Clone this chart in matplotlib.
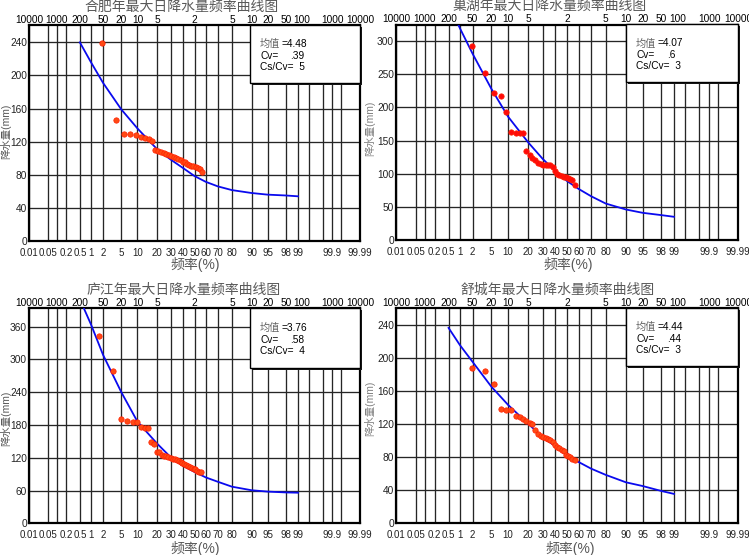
import matplotlib
matplotlib.use("Agg")
import matplotlib.pyplot as plt
import matplotlib.transforms as mtransforms
from matplotlib.patches import Rectangle
from matplotlib.ticker import FixedLocator, NullFormatter
import numpy as np
from statistics import NormalDist

plt.rcParams['font.family'] = ['Liberation Sans', 'Noto Sans CJK SC', 'DejaVu Sans']

W, H = 749, 555

# empirical frequencies (%) of the plotted points
FREQ_A = [1.9, 3.8, 5.7, 7.5, 9.4, 11.3, 13.2, 15.1, 17.0, 18.9,
          20.8, 22.6, 24.5, 26.4, 28.3, 30.2, 32.1, 34.0, 35.8, 37.7,
          39.6, 41.5, 43.4, 45.3, 47.2, 49.1, 50.9, 52.8, 54.7, 56.6]
FREQ_B = [1.6, 3.3, 4.9, 6.6, 8.2, 9.8, 11.5, 13.1, 14.8, 16.4,
          18.0, 19.7, 21.3, 23.0, 24.6, 26.2, 27.9, 29.5, 31.1, 32.8,
          34.4, 36.1, 37.7, 39.3, 41.0, 42.6, 44.3, 45.9, 47.5, 49.2,
          50.8, 52.5, 54.1, 55.7]

HEFEI_PTS = [239, 146, 129, 129, 128.5, 125.5, 124, 123, 120.5, 110.5,
             109, 108, 106.5, 105, 104, 103, 101.5, 100.5, 99, 98,
             96, 95, 93.5, 92, 91, 90.5, 89, 88, 87, 83]
CHAOHU_PTS = [292, 252, 221, 217, 193, 163.5, 162, 162, 162, 134,
              128, 123, 121, 116, 114, 113.5, 113.5, 113.5, 113, 110,
              104, 100, 98, 97, 95.5, 94.5, 93, 92, 90.5, 83]
LUJIANG_PTS = [343, 279, 190.5, 187.5, 186, 186, 177, 175, 173.5, 148.5,
               146, 131, 130, 124.5, 123.5, 123, 122, 120, 118.5, 117,
               115, 113.5, 111.5, 110, 108.5, 107, 105, 103, 102, 100,
               98.5, 96.5, 94.5, 93.5]
SHUCHENG_PTS = [187, 184, 168, 137.5, 137, 137, 130, 128, 125.5, 123.5,
                121.5, 120.5, 113, 108, 106, 104, 103, 101.5, 100, 98,
                95, 92, 91, 89, 87, 83, 81, 79.5, 78, 76]

# fitted frequency curves
CURVE_FREQ = [0.5, 1, 2, 5, 10, 20, 30, 40, 50, 60, 70, 80, 90, 95, 98, 99]
HEFEI_FIT = [240, 216, 191, 159, 136, 111, 98, 88, 78.5, 71.5, 66, 61.5, 58, 56, 55, 54]
CHAOHU_FIT = [356, 319, 281, 228, 186, 147, 122, 104, 89, 77, 66, 55, 46, 41, 37.5, 35]
LUJIANG_FIT = [410, 364, 308, 240, 186, 146, 120, 105, 94, 84, 76, 67, 60.5, 58, 56.5, 56]
SHUCHENG_FIT = [236, 215, 195, 165, 143, 120, 104, 93, 82, 74, 66, 58.5, 49.5, 45, 39, 35.5]

BOT_FREQ = [0.01, 0.05, 0.2, 0.5, 1, 2, 5, 10, 20, 30, 40, 50, 60, 70, 80,
            90, 95, 98, 99, 99.9, 99.99]
BOT_LABELS = ['0.01', '0.05', '0.2', '0.5', '1', '2', '5', '10', '20', '30', '40',
              '50', '60', '70', '80', '90', '95', '98', '99', '99.9', '99.99']
MINOR_FREQ = [0.1, 99.5, 99.8, 99.95]
TOP_FREQ = [0.01, 0.1, 0.5, 2, 5, 10, 20, 50, 80, 90, 95, 98, 99, 99.9, 99.99]
TOP_LABELS = ['10000', '1000', '200', '50', '20', '10', '5', '2', '5', '10', '20',
              '50', '100', '1000', '10000']

nd = NormalDist()
_ppf = np.vectorize(nd.inv_cdf, otypes=[float])
_cdf = np.vectorize(nd.cdf, otypes=[float])


def fwd(p):
    p = np.clip(np.asarray(p, dtype=float), 1e-7, 100 - 1e-7)
    return _ppf(p / 100.0)


def inv(t):
    return _cdf(np.asarray(t, dtype=float)) * 100.0


GRAY = '#595959'

panels = [
    dict(title='合肥年最大日降水量频率曲线图', rect=(29, 25, 360, 241), title_xy=(182, 7),
         xlab_xy=(195, 265), freq=FREQ_A, pts=HEFEI_PTS, fit=HEFEI_FIT,
         ylim=261, yticks=[0, 40, 80, 120, 160, 200, 240], dot='#ff4a14',
         stats=('4.48', '.39', '5'), box=(0.668, 0.73)),
    dict(title='巢湖年最大日降水量频率曲线图', rect=(396, 24.5, 738, 240), title_xy=(550, 6),
         xlab_xy=(568, 265), freq=FREQ_A, pts=CHAOHU_PTS, fit=CHAOHU_FIT,
         ylim=325, yticks=[0, 50, 100, 150, 200, 250, 300], dot='#ff0a0a',
         stats=('4.07', '.6', '3'), box=(0.672, 0.733)),
    dict(title='庐江年最大日降水量频率曲线图', rect=(29, 308, 360, 523.3), title_xy=(184, 290),
         xlab_xy=(195, 548), freq=FREQ_B, pts=LUJIANG_PTS, fit=LUJIANG_FIT,
         ylim=394, yticks=[0, 60, 120, 180, 240, 300, 360], dot='#ff4a14',
         stats=('3.76', '.58', '4'), box=(0.668, 0.721)),
    dict(title='舒城年最大日降水量频率曲线图', rect=(396, 308, 738, 523.3), title_xy=(558, 290),
         xlab_xy=(570, 548), freq=FREQ_A, pts=SHUCHENG_PTS, fit=SHUCHENG_FIT,
         ylim=260, yticks=[0, 40, 80, 120, 160, 200, 240], dot='#ff4a14',
         stats=('4.44', '.44', '3'), box=(0.672, 0.73)),
]

fig = plt.figure(figsize=(W / 100, H / 100), dpi=100)

for pn in panels:
    l, t, r, b = pn['rect']
    ax = fig.add_axes([l / W, 1 - b / H, (r - l) / W, (b - t) / H])
    ax.set_xscale('function', functions=(fwd, inv))
    ax.set_xlim(0.01, 99.99)
    ax.set_ylim(0, pn['ylim'])

    ax.xaxis.set_major_locator(FixedLocator(BOT_FREQ))
    ax.set_xticklabels(BOT_LABELS)
    ax.xaxis.set_minor_locator(FixedLocator(MINOR_FREQ))
    ax.xaxis.set_minor_formatter(NullFormatter())
    ax.set_yticks(pn['yticks'])
    ax.tick_params(axis='x', which='both', length=0, pad=5, labelsize=7, labelcolor='#222222')
    ax.tick_params(axis='y', length=0, pad=1.5, labelsize=7.3, labelcolor='#222222')
    ax.grid(True, which='both', color='#262626', lw=0.95)
    ax.set_axisbelow(True)
    for s in ax.spines.values():
        s.set_linewidth(1.6)
        s.set_color('black')

    ax.plot(CURVE_FREQ, pn['fit'], color='#0a0aee', lw=1.3, zorder=3)
    ax.scatter(pn['freq'], pn['pts'], s=15, color=pn['dot'], edgecolors='#ff1e00',
               linewidths=0.5, zorder=4)

    # return-period labels on top
    top_tr = mtransforms.blended_transform_factory(ax.transData, ax.transAxes) + \
        mtransforms.ScaledTranslation(0, 0.05, fig.dpi_scale_trans)
    for f, lab in zip(TOP_FREQ, TOP_LABELS):
        tr = top_tr
        if f == 99:
            # nudge so "50" and "100" do not run together
            tr = top_tr + mtransforms.ScaledTranslation(0.035, 0, fig.dpi_scale_trans)
        ax.text(f, 1.0, lab, transform=tr, ha='center', va='center',
                fontsize=7.3, color='black', clip_on=False)

    # parameter box with shadow
    x0, y0 = pn['box']
    shadow = Rectangle((x0, y0), 1 - x0, 1 - y0, transform=ax.transAxes +
                       mtransforms.ScaledTranslation(0.02, -0.02, fig.dpi_scale_trans),
                       facecolor='#1a1a1a', edgecolor='none', zorder=5, clip_on=False)
    box = Rectangle((x0, y0), 1 - x0, 1 - y0, transform=ax.transAxes,
                    facecolor='white', edgecolor='black', lw=1.0, zorder=6, clip_on=False)
    ax.add_patch(shadow)
    ax.add_patch(box)
    mean, cv, ratio = pn['stats']
    tx = x0 + 0.03
    yy = 1 - (1 - y0) * 0.33
    ax.text(tx, yy, '均值', transform=ax.transAxes, fontsize=7.3, color='#666666',
            va='center', ha='left', zorder=7, family=['Noto Sans CJK SC'])
    ax.text(tx + 0.064, yy, '=' + mean, transform=ax.transAxes, fontsize=7.3,
            color='black', va='center', ha='left', zorder=7)
    ax.text(tx, 1 - (1 - y0) * 0.53, 'Cv=', transform=ax.transAxes, fontsize=7.3,
            va='center', ha='left', zorder=7)
    ax.text(tx + 0.09, 1 - (1 - y0) * 0.53, cv, transform=ax.transAxes, fontsize=7.3,
            va='center', ha='left', zorder=7)
    ax.text(tx, 1 - (1 - y0) * 0.72, 'Cs/Cv=  ' + ratio, transform=ax.transAxes,
            fontsize=7.3, va='center', ha='left', zorder=7)

    fig.text(pn['title_xy'][0] / W, 1 - pn['title_xy'][1] / H, pn['title'],
             ha='center', va='center', fontsize=10, color=GRAY,
             family=['Noto Sans CJK SC'])
    fig.text(pn['xlab_xy'][0] / W, 1 - pn['xlab_xy'][1] / H, '频率(%)',
             ha='center', va='center', fontsize=10, color=GRAY)

# y-axis labels
for x, y, c in [(5.5, 131, GRAY), (5.5, 418, GRAY), (370, 128, '#808080'), (370, 408, '#808080')]:
    fig.text(x / W, 1 - y / H, '降水量(mm)', rotation=90, ha='center', va='center',
             fontsize=7.5, color=c)

fig.savefig('out.png', dpi=100)
